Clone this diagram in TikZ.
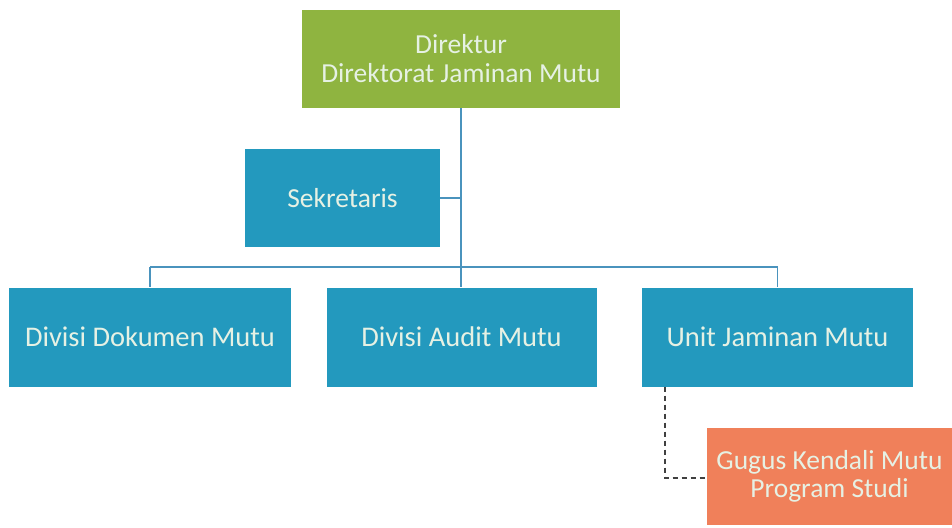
\documentclass[tikz,border=0pt]{standalone}
\usepackage{fontspec}
\setmainfont{Carlito}
\definecolor{dirgreen}{HTML}{8FB440}
\definecolor{boxblue}{HTML}{2399BE}
\definecolor{boxorange}{HTML}{F0805A}
\definecolor{linblue}{HTML}{4A93BD}
\definecolor{txtlight}{HTML}{E6F1E4}
\begin{document}
\begin{tikzpicture}[x=1pt,y=-1pt,
  box/.style={rectangle, inner sep=0pt, align=center, text=txtlight, font=\fontsize{27.5}{29}\selectfont},
  conn/.style={draw=linblue, line width=1.3pt},
  dconn/.style={draw=black!75, line width=1.3pt, dashed, dash pattern=on 5pt off 4pt}]
\fill[white] (0,0) rectangle (952,527);
\useasboundingbox (0,0) rectangle (952,527);
\node[box, fill=dirgreen, minimum width=318pt, minimum height=98pt] (dir) at (461,59) {Direktur\\Direktorat Jaminan Mutu};
\node[box, fill=boxblue, minimum width=195pt, minimum height=98pt] (sek) at (342.5,198) {Sekretaris};
\node[box, fill=boxblue, minimum width=282pt, minimum height=99pt, font=\fontsize{28.5}{30}\selectfont] (d1) at (150,337) {Divisi Dokumen Mutu};
\node[box, fill=boxblue, minimum width=270pt, minimum height=99pt, font=\fontsize{28.5}{30}\selectfont] (d2) at (461.5,337) {Divisi Audit Mutu};
\node[box, fill=boxblue, minimum width=271pt, minimum height=99pt, font=\fontsize{28.5}{30}\selectfont] (d3) at (777.5,337) {Unit Jaminan Mutu};
\node[box, fill=boxorange, minimum width=245pt, minimum height=97pt, font=\fontsize{27.5}{28}\selectfont] (gg) at (829.5,476.5) {Gugus Kendali Mutu\\Program Studi};
\coordinate (bus) at (461,267);
\coordinate (bl) at (150,267);
\coordinate (br) at (777.5,267);
\coordinate (dk) at (665,478);
\draw[conn] (dir.south) -- (bus);
\draw[conn] (sek.east) -- (sek.east -| dir.south);
\draw[conn] (bl) -- (br);
\draw[conn] (bl) -- (d1.north);
\draw[conn] (bus) -- (d2.north -| bus);
\draw[conn] (br) -- (d3.north);
\draw[dconn] (d3.south -| dk) -- (dk) -- (gg.west |- dk);
\end{tikzpicture}
\end{document}
